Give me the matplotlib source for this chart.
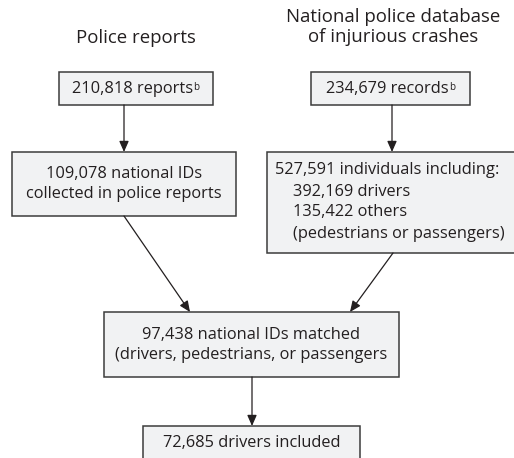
import matplotlib
matplotlib.use("Agg")
import matplotlib.pyplot as plt
from matplotlib.patches import Rectangle

# text of the flow chart
titles = ["Police reports", "National police database\nof injurious crashes"]
top_labels = ["210,818 reports", "234,679 records"]
top_note = "b"
ids_label = "109,078 national IDs\ncollected in police reports"
people_label = ["527,591 individuals including:",
                "392,169 drivers",
                "135,422 others",
                "(pedestrians or passengers)"]
matched_label = "97,438 national IDs matched\n(drivers, pedestrians, or passengers"
final_label = "72,685 drivers included"

plt.rcParams['font.family'] = ['Open Sans', 'DejaVu Sans']
txt_col = '#231f20'
box_fc = '#f1f2f3'
box_ec = '#3c3c3c'
fs_title = 13.4
fs_box = 11.8

fig = plt.figure(figsize=(5.14, 4.58), dpi=100)
ax = fig.add_axes([0, 0, 1, 1])
ax.set_xlim(0, 514)
ax.set_ylim(458, 0)
ax.axis('off')

def box(x0, y0, x1, y1):
    ax.add_patch(Rectangle((x0, y0), x1 - x0, y1 - y0, fc=box_fc, ec=box_ec, lw=1.1, zorder=2))

def arrow(x0, y0, x1, y1):
    ax.annotate('', xy=(x1, y1), xytext=(x0, y0),
                arrowprops=dict(arrowstyle='-|>,head_length=0.5,head_width=0.22',
                                mutation_scale=13, color=txt_col, lw=0.9,
                                shrinkA=0, shrinkB=0), zorder=3)

# titles
ax.text(136, 38, titles[0], ha='center', va='center', fontsize=fs_title, color=txt_col)
ax.text(393, 27, titles[1], ha='center', va='center', fontsize=fs_title, color=txt_col,
        linespacing=1.15)

# top boxes with superscript note
for (x0, x1), lab in zip([(59, 213), (311, 470)], top_labels):
    box(x0, 72, x1, 105)
    t = ax.text((x0 + x1) / 2 - 3, 89, lab, ha='center', va='center', fontsize=fs_box,
                color=txt_col, zorder=4)
    ax.annotate(top_note, xy=(1, 0.95), xycoords=t, ha='left', va='top',
                fontsize=fs_box * 0.6, color=txt_col, zorder=4)

# second row
box(12, 152, 236, 216)
ax.text(124, 184, ids_label, ha='center', va='center', fontsize=fs_box, color=txt_col,
        linespacing=1.3, zorder=4)
box(267, 152, 520, 253)
ys = [170.5, 191.5, 212.5, 233.5]
xs = [275, 293, 293, 293]
for x, y, lab in zip(xs, ys, people_label):
    ax.text(x, y, lab, ha='left', va='center', fontsize=fs_box, color=txt_col, zorder=4)

# matched and final
box(104, 312, 399, 377)
ax.text(251.5, 345, matched_label, ha='center', va='center', fontsize=fs_box,
        color=txt_col, linespacing=1.3, zorder=4)
box(143, 426, 360, 470)
ax.text(251.5, 443, final_label, ha='center', va='center', fontsize=fs_box,
        color=txt_col, zorder=4)

# arrows
arrow(124, 105, 124, 152)
arrow(392, 105, 392, 152)
arrow(124, 216, 190, 312)
arrow(393, 253, 350, 312)
arrow(252, 377, 252, 426)

fig.savefig('out.png', dpi=100)
